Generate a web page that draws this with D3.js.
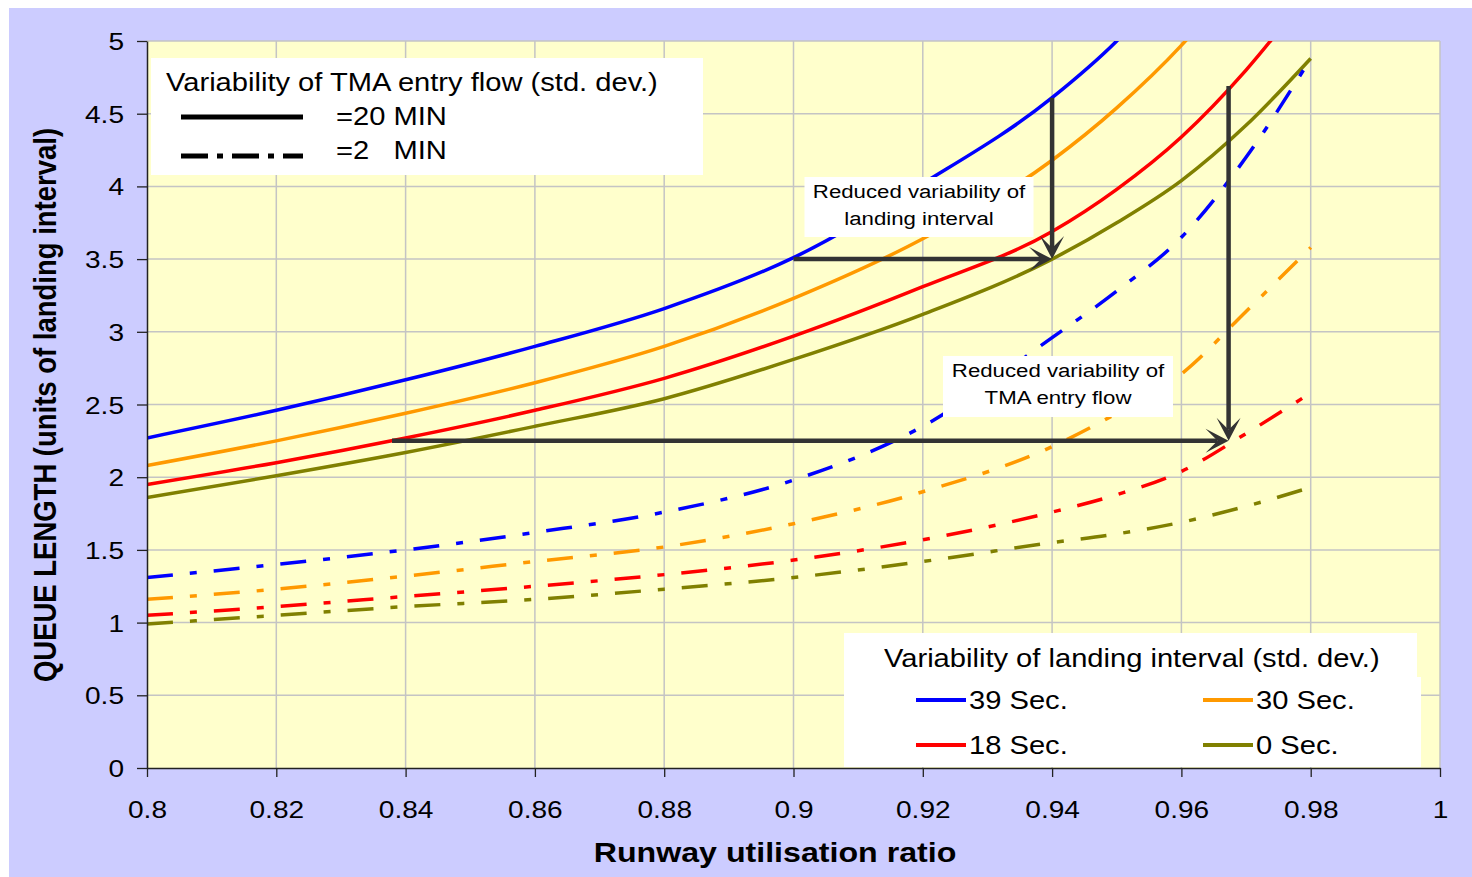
<!DOCTYPE html>
<html>
<head>
<meta charset="utf-8">
<script src="https://cdn.jsdelivr.net/npm/d3@7"></script>
<style>
  html, body { margin: 0; padding: 0; background: #ffffff; }
  svg { display: block; font-family: "Liberation Sans", Arial, Helvetica, sans-serif; }
</style>
</head>
<body>
<svg id="chart" width="1472" height="877"></svg>
<script>
// ---- data -------------------------------------------------------------
const utilisation = [0.80, 0.82, 0.84, 0.86, 0.88, 0.90, 0.92, 0.94, 0.95, 0.96, 0.97, 0.98];

const landingNames  = ["39 Sec.", "30 Sec.", "18 Sec.", "0 Sec."];
const landingColors = ["#0000FF", "#FF9900", "#FF0000", "#808000"];

// TMA entry flow std. dev. = 20 MIN (solid)
const flow20_39s = [2.27, 2.46, 2.67, 2.90, 3.16, 3.51, 4.02, 4.61, 5.00, 5.50, 6.10, 6.90];
const flow20_30s = [2.08, 2.25, 2.44, 2.65, 2.90, 3.23, 3.64, 4.18, 4.54, 4.97, 5.50, 6.10];
const flow20_18s = [1.95, 2.10, 2.27, 2.46, 2.68, 2.97, 3.31, 3.69, 3.98, 4.34, 4.80, 5.35];
const flow20_0s  = [1.86, 2.01, 2.17, 2.35, 2.54, 2.81, 3.12, 3.50, 3.75, 4.04, 4.42, 4.88];

// TMA entry flow std. dev. = 2 MIN (dash-dot)
const flow2_39s = [1.31, 1.40, 1.50, 1.62, 1.76, 1.98, 2.35, 2.96, 3.28, 3.65, 4.20, 4.88];
const flow2_30s = [1.16, 1.23, 1.32, 1.42, 1.52, 1.68, 1.90, 2.21, 2.44, 2.71, 3.14, 3.58];
const flow2_18s = [1.05, 1.11, 1.18, 1.25, 1.33, 1.43, 1.57, 1.76, 1.88, 2.04, 2.30, 2.58];
const flow2_0s  = [0.99, 1.05, 1.11, 1.16, 1.23, 1.31, 1.42, 1.55, 1.61, 1.69, 1.80, 1.93];

const xTicks      = [0.80, 0.82, 0.84, 0.86, 0.88, 0.90, 0.92, 0.94, 0.96, 0.98, 1.00];
const xTickLabels = ["0.8", "0.82", "0.84", "0.86", "0.88", "0.9", "0.92", "0.94", "0.96", "0.98", "1"];
const yTicks      = [0, 0.5, 1, 1.5, 2, 2.5, 3, 3.5, 4, 4.5, 5];
const yTickLabels = ["0", "0.5", "1", "1.5", "2", "2.5", "3", "3.5", "4", "4.5", "5"];

// annotation arrows: [utilisation, queue length]
const landingArrowStartLeft = [0.90, 3.50];
const landingArrowStartTop  = [0.94, 4.61];
const landingArrowTip       = [0.94, 3.50];
const flowArrowStartLeft    = [0.8379, 2.25];
const flowArrowStartTop     = [0.9673, 4.69];
const flowArrowTip          = [0.9673, 2.25];

// ---- layout -----------------------------------------------------------
const plot = { left: 147, right: 1440, top: 41, bottom: 768 };
const SX = 1.17;              // horizontal text stretch
const svg = d3.select("#chart");

const x = d3.scaleLinear().domain([0.8, 1.0]).range([plot.left, plot.right]);
const y = d3.scaleLinear().domain([0, 5]).range([plot.bottom, plot.top]);

function label(parent, px, py, str, opt = {}) {
  const g = parent.append("g")
    .attr("transform", `translate(${px},${py}) scale(${SX},1)` + (opt.rotate ? ` rotate(${opt.rotate})` : ""));
  g.append("text")
    .attr("x", 0).attr("y", 0)
    .attr("font-size", opt.size || 24)
    .attr("font-weight", opt.weight || "normal")
    .attr("text-anchor", opt.anchor || "start")
    .attr("fill", "#000")
    .style("white-space", "pre")
    .text(str);
  return g;
}

// outer background
svg.append("rect").attr("x", 9).attr("y", 8).attr("width", 1472 - 9).attr("height", 877 - 8)
  .attr("fill", "#CCCCFF");

// plot area
svg.append("rect")
  .attr("x", plot.left).attr("y", plot.top)
  .attr("width", plot.right - plot.left).attr("height", plot.bottom - plot.top)
  .attr("fill", "#FFFFCC");

// gridlines
const grid = svg.append("g").attr("stroke", "#C4C4C4").attr("stroke-width", 1.5);
grid.selectAll("line.h").data(yTicks.filter(v => v > 0)).join("line")
  .attr("x1", plot.left).attr("x2", plot.right)
  .attr("y1", d => y(d)).attr("y2", d => y(d));
grid.selectAll("line.v").data(xTicks.filter(v => v > 0.8)).join("line")
  .attr("x1", d => x(d)).attr("x2", d => x(d))
  .attr("y1", plot.top).attr("y2", plot.bottom);

// series
svg.append("defs").append("clipPath").attr("id", "plotClip")
  .append("rect").attr("x", plot.left).attr("y", plot.top)
  .attr("width", plot.right - plot.left).attr("height", plot.bottom - plot.top);

const series = [
  { values: flow20_39s, color: landingColors[0], dash: null },
  { values: flow20_30s, color: landingColors[1], dash: null },
  { values: flow20_18s, color: landingColors[2], dash: null },
  { values: flow20_0s,  color: landingColors[3], dash: null },
  { values: flow2_39s,  color: landingColors[0], dash: "26,17,7,17" },
  { values: flow2_30s,  color: landingColors[1], dash: "26,17,7,17" },
  { values: flow2_18s,  color: landingColors[2], dash: "26,17,7,17" },
  { values: flow2_0s,   color: landingColors[3], dash: "26,17,7,17" }
];

const line = d3.line()
  .x((d, i) => x(utilisation[i]))
  .y(d => y(d))
  .curve(d3.curveMonotoneX);

const lines = svg.append("g").attr("clip-path", "url(#plotClip)");
lines.selectAll("path").data(series).join("path")
  .attr("d", d => line(d.values))
  .attr("fill", "none")
  .attr("stroke", d => d.color)
  .attr("stroke-width", 3.5)
  .attr("stroke-dasharray", d => d.dash);

// axes
const yAxis = d3.axisLeft(y).tickValues(yTicks).tickFormat((d, i) => yTickLabels[i])
  .tickSize(10).tickSizeOuter(0);
const xAxis = d3.axisBottom(x).tickValues(xTicks).tickFormat((d, i) => xTickLabels[i])
  .tickSize(9).tickSizeOuter(0);

const gy = svg.append("g").attr("transform", `translate(${plot.left},0)`).call(yAxis);
const gx = svg.append("g").attr("transform", `translate(0,${plot.bottom})`).call(xAxis);

[gx, gy].forEach(g => {
  g.select(".domain").attr("stroke", "#222").attr("stroke-width", 1.5);
  g.selectAll(".tick line").attr("stroke", "#222").attr("stroke-width", 1.3);
  g.selectAll(".tick text")
    .attr("font-family", "'Liberation Sans', Arial, sans-serif")
    .attr("font-size", 24).attr("fill", "#000")
    .attr("x", 0).attr("y", 0).attr("dy", null);
});
gy.selectAll(".tick text").attr("transform", `translate(-23,8.5) scale(${SX},1)`);
gx.selectAll(".tick text").attr("transform", `translate(0,50) scale(${SX},1)`);

// axis titles
label(svg, 775, 862, "Runway utilisation ratio", { size: 27.5, weight: "bold", anchor: "middle" });
label(svg, 56, 405, "QUEUE LENGTH (units of landing interval)",
  { size: 27.5, weight: "bold", anchor: "middle", rotate: -90 });

// legend: TMA entry flow
const legTop = svg.append("g");
legTop.append("rect").attr("x", 151).attr("y", 58).attr("width", 552).attr("height", 117).attr("fill", "#fff");
label(legTop, 166, 91, "Variability of TMA entry flow (std. dev.)", { size: 24.9 });
legTop.append("line").attr("x1", 181).attr("x2", 303).attr("y1", 117).attr("y2", 117)
  .attr("stroke", "#000").attr("stroke-width", 5);
legTop.append("line").attr("x1", 181).attr("x2", 303).attr("y1", 156).attr("y2", 156)
  .attr("stroke", "#000").attr("stroke-width", 5).attr("stroke-dasharray", "27,9,6,9");
label(legTop, 336, 125, "=20 MIN", { size: 24.9 });
label(legTop, 336, 159, "=2   MIN", { size: 24.9 });

// annotation boxes
function note(cx, top, w, h, lines2) {
  const g = svg.append("g");
  g.append("rect").attr("x", cx - w / 2).attr("y", top).attr("width", w).attr("height", h).attr("fill", "#fff");
  label(g, cx, top + 21, lines2[0], { size: 19, anchor: "middle" });
  label(g, cx, top + 48, lines2[1], { size: 19, anchor: "middle" });
}
note(919, 177, 229, 60, ["Reduced variability of", "landing interval"]);
note(1058, 356, 230, 61, ["Reduced variability of", "TMA entry flow"]);

// arrows
function arrow(from, tip) {
  const x1 = x(from[0]), y1 = y(from[1]), x2 = x(tip[0]), y2 = y(tip[1]);
  const ang = Math.atan2(y2 - y1, x2 - x1);
  const len = 23, half = 12, notch = 11;
  const ux = Math.cos(ang), uy = Math.sin(ang);
  const nx = -uy, ny = ux;
  const g = svg.append("g");
  g.append("line")
    .attr("x1", x1).attr("y1", y1)
    .attr("x2", x2 - ux * notch).attr("y2", y2 - uy * notch)
    .attr("stroke", "#333333").attr("stroke-width", 4.5);
  const pts = [
    [x2, y2],
    [x2 - ux * len + nx * half, y2 - uy * len + ny * half],
    [x2 - ux * notch, y2 - uy * notch],
    [x2 - ux * len - nx * half, y2 - uy * len - ny * half]
  ];
  g.append("polygon").attr("points", pts.map(p => p.join(",")).join(" ")).attr("fill", "#333333");
}
arrow(landingArrowStartLeft, landingArrowTip);
arrow(landingArrowStartTop, landingArrowTip);
arrow(flowArrowStartLeft, flowArrowTip);
arrow(flowArrowStartTop, flowArrowTip);

// legend: landing interval
const legBot = svg.append("g");
legBot.append("rect").attr("x", 844).attr("y", 633).attr("width", 573).attr("height", 50).attr("fill", "#fff");
legBot.append("rect").attr("x", 844).attr("y", 677).attr("width", 577).attr("height", 90).attr("fill", "#fff");
label(legBot, 884, 667, "Variability of landing interval (std. dev.)", { size: 24.9 });
const legendPos = [[916, 700], [1203, 700], [916, 745], [1203, 745]];
landingNames.forEach((name, i) => {
  const [lx, ly] = legendPos[i];
  legBot.append("line").attr("x1", lx).attr("x2", lx + 50).attr("y1", ly).attr("y2", ly)
    .attr("stroke", landingColors[i]).attr("stroke-width", 4);
  label(legBot, lx + 53, ly + 9, name, { size: 24.9 });
});
</script>
</body>
</html>
